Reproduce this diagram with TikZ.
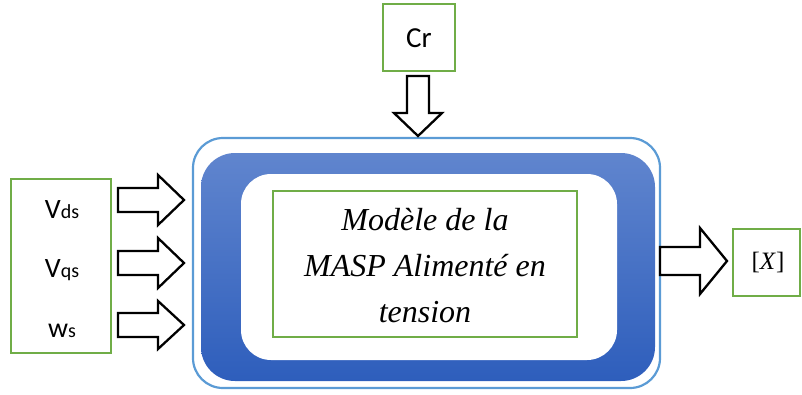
\documentclass[tikz,border=0pt]{standalone}
\usepackage{fontspec}
\newfontfamily\calibri{Carlito}
\newfontfamily\serifit{Liberation Serif}
\definecolor{grn}{RGB}{112,173,71}
\definecolor{lblue}{RGB}{91,155,213}
\definecolor{btop}{RGB}{96,133,206}
\definecolor{bbot}{RGB}{46,94,188}

\tikzset{
  greenbox/.style={draw=grn, line width=2.7pt},
  blockarrow/.style={draw=black, fill=white, line width=2.3pt, line join=miter},
  lbl/.style={font=\calibri\fontsize{28}{28}\selectfont, inner sep=0pt, anchor=base},
}
\newcommand\sm[1]{{\fontsize{20}{20}\selectfont #1}}

% horizontal block arrow: tail x, tip x, axis y, shaft half, head half, head length
\newcommand\harrow[6]{%
  \draw[blockarrow] ({#1},{#3-#4}) -- ({#2-#6},{#3-#4}) -- ({#2-#6},{#3-#5})
    -- ({#2},{#3}) -- ({#2-#6},{#3+#5}) -- ({#2-#6},{#3+#4}) -- ({#1},{#3+#4}) -- cycle;}
% vertical (downward) block arrow: tail y, tip y, axis x, shaft half, head half, head length
\newcommand\varrow[6]{%
  \draw[blockarrow] ({#3-#4},{#1}) -- ({#3-#4},{#2-#6}) -- ({#3-#5},{#2-#6})
    -- ({#3},{#2}) -- ({#3+#5},{#2-#6}) -- ({#3+#4},{#2-#6}) -- ({#3+#4},{#1}) -- cycle;}

\begin{document}
\begin{tikzpicture}[x=1pt,y=-1pt]
\useasboundingbox (0,0) rectangle (802,394);

% model block: outer outline, blue frame, white panel, green box
\draw[lblue, line width=2.2pt, rounded corners=30pt] (193,138) rectangle (660,388);
\shade[top color=btop, bottom color=bbot, rounded corners=34pt] (201,153) rectangle (655,381);
\fill[white, rounded corners=30pt] (241,174) rectangle (617,360);
\draw[greenbox] (273,191) rectangle (577,337);
\node[font=\serifit\itshape\fontsize{32}{46}\selectfont, align=center, inner sep=0pt]
  (model) at (425,266) {Modèle de la\\MASP Alimenté en\\tension};

% input box
\draw[greenbox] (11,179) rectangle (111,353);
\node[lbl] (vds) at (62,218) {V\sm{ds}};
\node[lbl] (vqs) at (62,277) {V\sm{qs}};
\node[lbl] (ws)  at (62,337) {w\sm{s}};

% input arrows
\harrow{118}{184}{200}{12}{25}{26}
\harrow{118}{184}{263}{12}{25}{26}
\harrow{118}{184}{325}{12}{24}{26}

% load torque
\draw[greenbox] (383,4) rectangle (455,71);
\node[lbl, font=\calibri\fontsize{29}{29}\selectfont] (cr) at (419,47) {Cr};
\varrow{76}{136}{418}{11}{24}{23}

% output
\harrow{660}{727}{261}{14}{33}{27}
\draw[greenbox] (733,229) rectangle (800,296);
\node[inner sep=0pt, anchor=base, font=\serifit\fontsize{25}{25}\selectfont] (x) at (768,269) {[\textit{X}]};
\end{tikzpicture}
\end{document}
